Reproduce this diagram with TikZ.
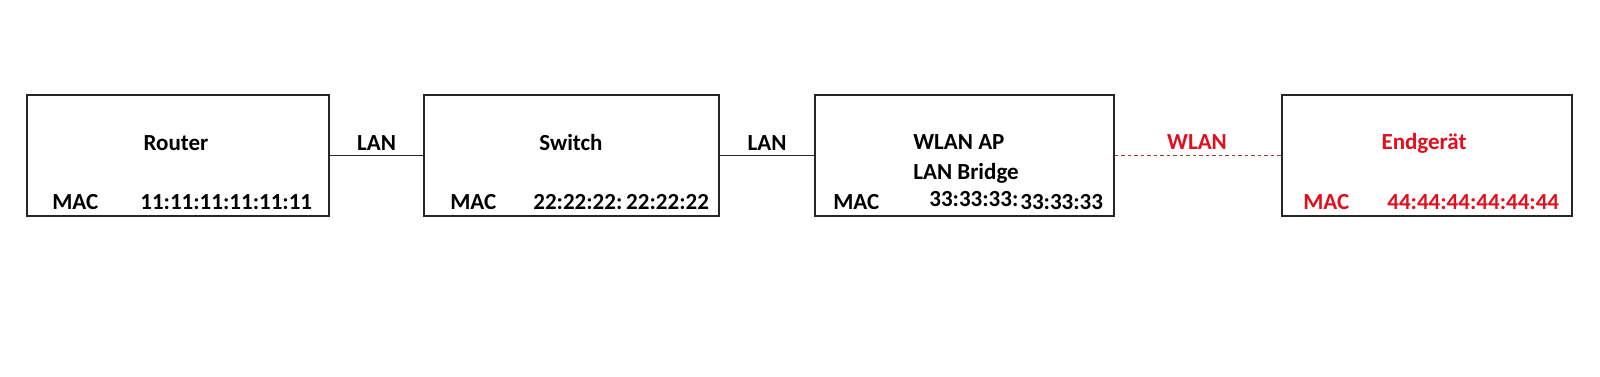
\documentclass[tikz,border=0pt]{standalone}
\usepackage{fontspec}
\setmainfont{Carlito}
\usepackage{xcolor}
\usetikzlibrary{positioning}
\definecolor{wlanred}{RGB}{226,14,30}
\definecolor{wlanline}{RGB}{150,60,60}

\begin{document}
\begin{tikzpicture}[
    x=0.02cm, y=-0.02cm,
    font=\fontsize{13.1}{15}\selectfont\bfseries,
    device/.style={
        draw=black!85,
        line width=0.7pt,
        minimum height=2.42cm,
        inner sep=0pt
    },
    txt/.style={
        inner sep=0pt,
        anchor=base west
    },
    title/.style={
        inner sep=0pt,
        anchor=base
    },
    link/.style={draw=black!85, line width=0.55pt},
    radio/.style={draw=wlanline, line width=0.55pt, dash pattern=on 2.2pt off 1.5pt}
]

\useasboundingbox (0,0) rectangle (1600,376);

\node[device, minimum width=6.04cm] (router) at (178,155.5) {};
\node[device, minimum width=5.90cm] (switch) at (571.5,155.5) {};
\node[device, minimum width=5.98cm] (ap) at (964.5,155.5) {};
\node[device, minimum width=5.80cm] (client) at (1427,155.5) {};

\node[title] (router-name) at (176,150.7) {Router};
\node[txt] (router-mac) at (52,209.5) {MAC};
\node[txt] (router-addr) at (140,209.5) {11:11:11:11:11:11};

\node[title] (switch-name) at (571,150.7) {Switch};
\node[txt] (switch-mac) at (450,209.5) {MAC};
\node[txt] (switch-addr) at (533,209.5) {22:22:22:\,22:22:22};

\node[txt] (ap-name) at (913,149.3) {WLAN AP};
\node[txt] (ap-bridge) at (913,179.3) {LAN Bridge};
\node[txt] (ap-mac) at (833,209.3) {MAC};
\node[txt] (ap-addr1) at (929,206) {33:33:33:};
\node[txt] (ap-addr2) at (1020,209.3) {33:33:33};

\node[title, text=wlanred] (client-name) at (1424,149.3) {Endgerät};
\node[txt, text=wlanred] (client-mac) at (1303,209.3) {MAC};
\node[txt, text=wlanred] (client-addr) at (1387,209.3) {44:44:44:44:44:44};

\draw[link] (router) -- (switch);
\draw[link] (switch) -- (ap);
\draw[radio] (ap) -- (client);

\node[title] (lan1) at (376.5,150.7) {LAN};
\node[title] (lan2) at (767,150.7) {LAN};
\node[title, text=wlanred] (wlan) at (1197,149.3) {WLAN};

\end{tikzpicture}
\end{document}
